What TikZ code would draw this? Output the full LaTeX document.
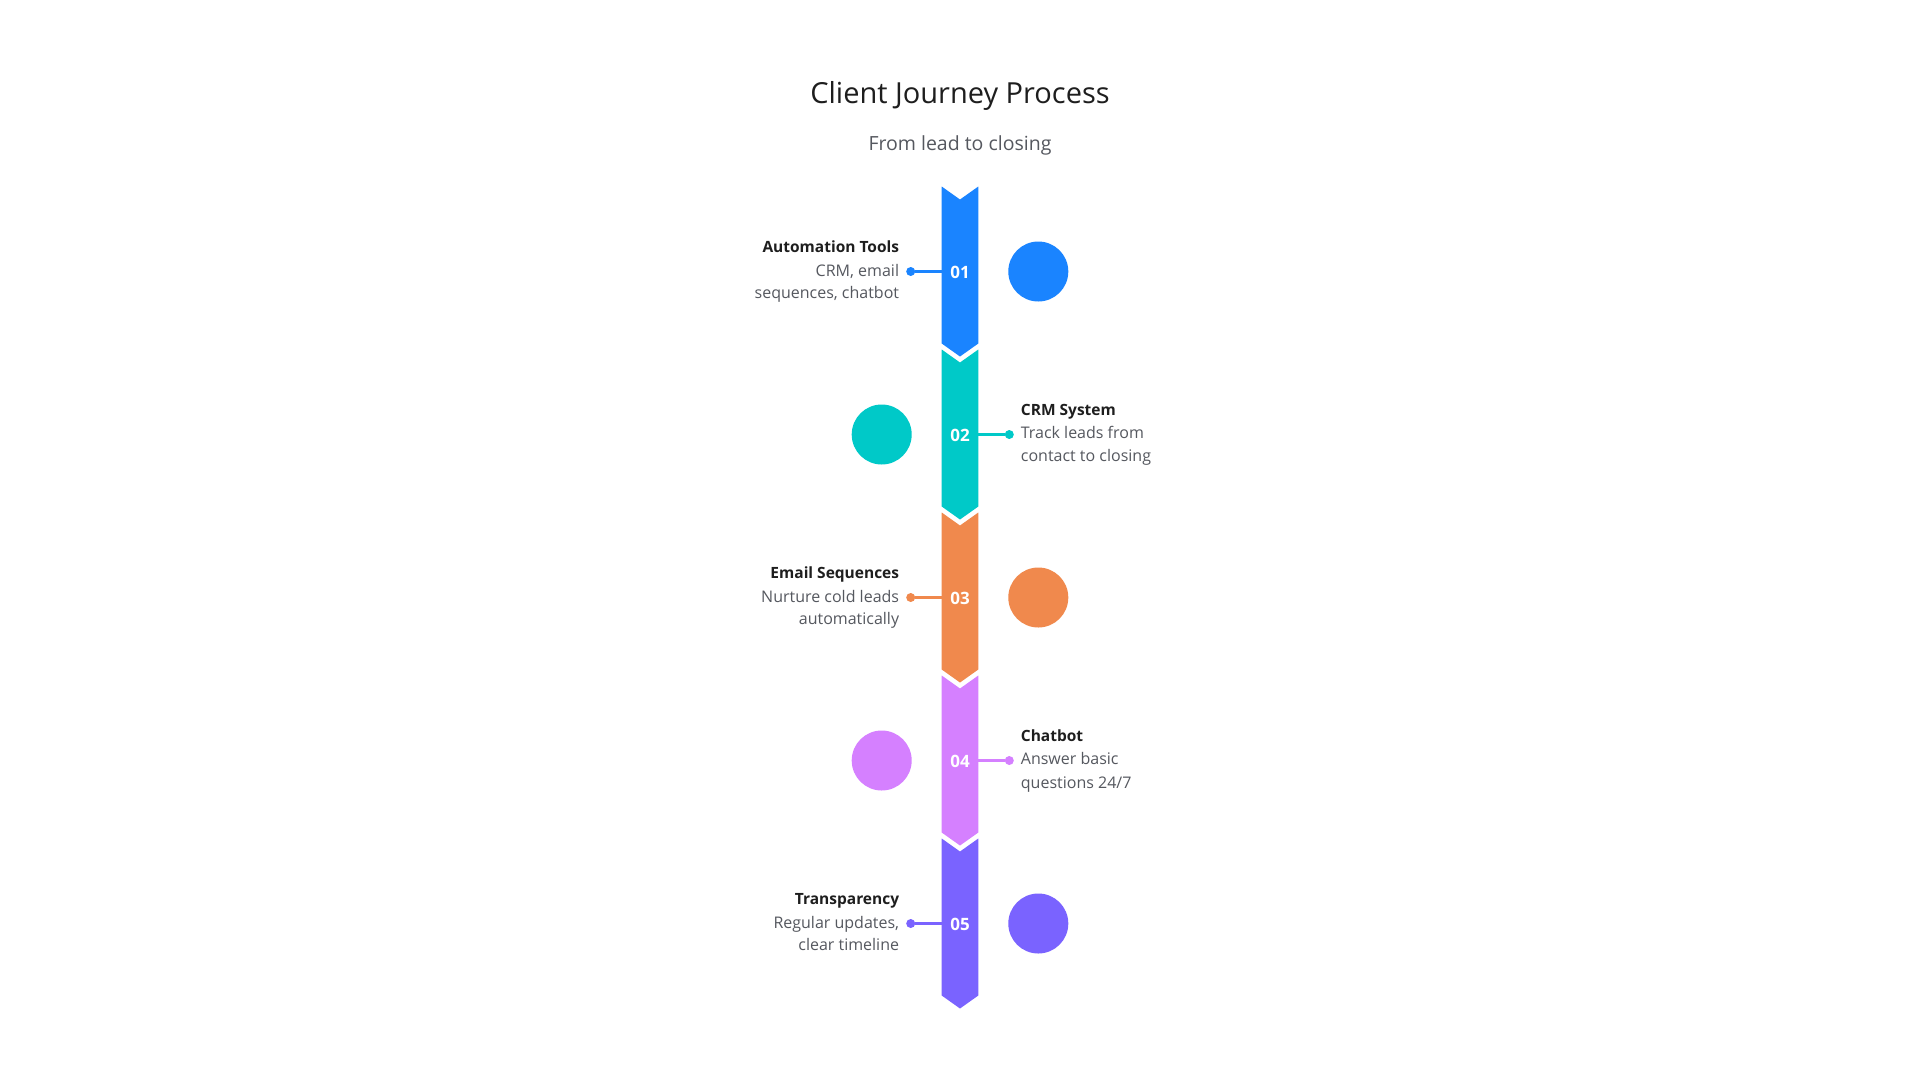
\documentclass[tikz,border=0pt]{standalone}
\usepackage{fontspec}
\setmainfont{Open Sans}
\usetikzlibrary{positioning}
\definecolor{cblue}{RGB}{26,132,255}
\definecolor{cteal}{RGB}{0,201,200}
\definecolor{corange}{RGB}{240,137,77}
\definecolor{cpink}{RGB}{213,128,255}
\definecolor{cviolet}{RGB}{122,99,255}
\definecolor{chead}{RGB}{30,30,30}
\definecolor{cbody}{RGB}{85,88,95}

\begin{document}
\begin{tikzpicture}[x=1pt,y=-1pt,
    num/.style={font=\fontsize{17}{17}\selectfont\bfseries, text=white, inner sep=0pt},
    blob/.style={circle, minimum size=60pt, inner sep=0pt},
    dot/.style={circle, minimum size=9pt, inner sep=0pt},
    link/.style={line width=2.5pt},
    head/.style={font=\fontsize{15.5}{16}\selectfont\bfseries, text=chead, inner sep=0pt},
    body/.style={font=\fontsize{16}{16}\selectfont, text=cbody, inner sep=0pt}]
        \useasboundingbox[fill=white] (0,0) rectangle (1920,1080);
        \node[font=\fontsize{29}{29}\selectfont, text=chead] (title) at (960,95.5) {Client Journey Process};
        \node[font=\fontsize{19.5}{19.5}\selectfont, text=cbody] (subtitle) at (960,145.5) {From lead to closing};
        % step 01
        \fill[cblue] (941.7,186.5) -- (960,199.5) -- (978.3,186.5) -- (978.3,343.5) -- (960,356.5) -- (941.7,343.5) -- cycle;
        \node[num] (n1) at (960,272) {01};
        \node[blob, fill=cblue] (c1) at (1038.3,271.5) {};
        \coordinate (e1) at (941.7,271.5);
        \node[dot, fill=cblue] (d1) at (910.7,271.5) {};
        \draw[link, cblue] (e1) -- (d1);
        \node[head, anchor=mid east] (h1) at (899.3,249.5) {Automation Tools};
        \node[body, anchor=mid east] (t1) at (899.3,273.5) {CRM, email};
        \node[body, anchor=mid east] (u1) at (899.3,295.5) {sequences, chatbot};
        % step 02
        \fill[cteal] (941.7,349.5) -- (960,362.5) -- (978.3,349.5) -- (978.3,506.5) -- (960,519.5) -- (941.7,506.5) -- cycle;
        \node[num] (n2) at (960,435) {02};
        \node[blob, fill=cteal] (c2) at (881.7,434.5) {};
        \coordinate (e2) at (978.3,434.5);
        \node[dot, fill=cteal] (d2) at (1009.3,434.5) {};
        \draw[link, cteal] (e2) -- (d2);
        \node[head, anchor=mid west] (h2) at (1020.7,412.5) {CRM System};
        \node[body, anchor=mid west] (t2) at (1020.7,436) {Track leads from};
        \node[body, anchor=mid west] (u2) at (1020.7,459) {contact to closing};
        % step 03
        \fill[corange] (941.7,512.5) -- (960,525.5) -- (978.3,512.5) -- (978.3,669.5) -- (960,682.5) -- (941.7,669.5) -- cycle;
        \node[num] (n3) at (960,598) {03};
        \node[blob, fill=corange] (c3) at (1038.3,597.5) {};
        \coordinate (e3) at (941.7,597.5);
        \node[dot, fill=corange] (d3) at (910.7,597.5) {};
        \draw[link, corange] (e3) -- (d3);
        \node[head, anchor=mid east] (h3) at (899.3,575.5) {Email Sequences};
        \node[body, anchor=mid east] (t3) at (899.3,599.5) {Nurture cold leads};
        \node[body, anchor=mid east] (u3) at (899.3,621.5) {automatically};
        % step 04
        \fill[cpink] (941.7,675.5) -- (960,688.5) -- (978.3,675.5) -- (978.3,832.5) -- (960,845.5) -- (941.7,832.5) -- cycle;
        \node[num] (n4) at (960,761) {04};
        \node[blob, fill=cpink] (c4) at (881.7,760.5) {};
        \coordinate (e4) at (978.3,760.5);
        \node[dot, fill=cpink] (d4) at (1009.3,760.5) {};
        \draw[link, cpink] (e4) -- (d4);
        \node[head, anchor=mid west] (h4) at (1020.7,738.5) {Chatbot};
        \node[body, anchor=mid west] (t4) at (1020.7,762) {Answer basic};
        \node[body, anchor=mid west] (u4) at (1020.7,785.5) {questions 24/7};
        % step 05
        \fill[cviolet] (941.7,838.5) -- (960,851.5) -- (978.3,838.5) -- (978.3,995.5) -- (960,1008.5) -- (941.7,995.5) -- cycle;
        \node[num] (n5) at (960,924) {05};
        \node[blob, fill=cviolet] (c5) at (1038.3,923.5) {};
        \coordinate (e5) at (941.7,923.5);
        \node[dot, fill=cviolet] (d5) at (910.7,923.5) {};
        \draw[link, cviolet] (e5) -- (d5);
        \node[head, anchor=mid east] (h5) at (899.3,901.5) {Transparency};
        \node[body, anchor=mid east] (t5) at (899.3,925.5) {Regular updates,};
        \node[body, anchor=mid east] (u5) at (899.3,948) {clear timeline};
      \end{tikzpicture}
\end{document}
